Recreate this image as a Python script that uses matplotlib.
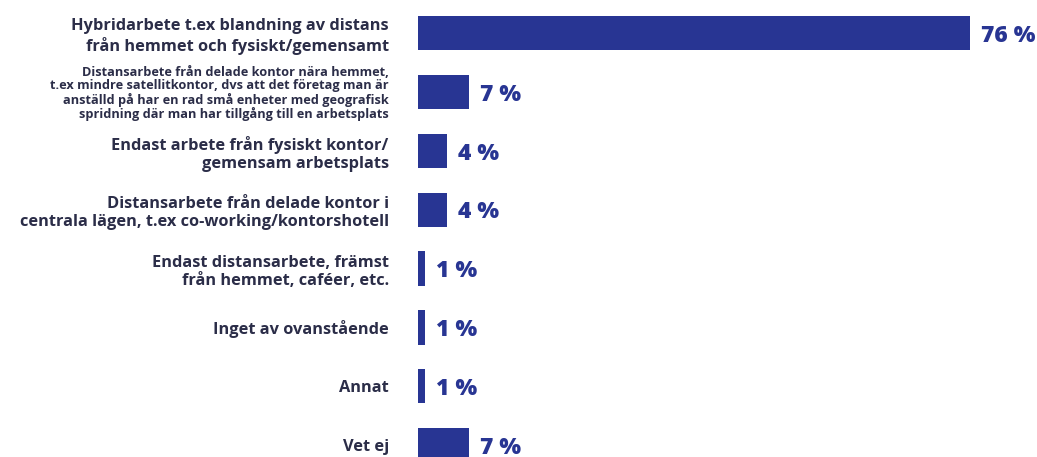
import matplotlib.pyplot as plt

# svarsalternativ och andel svarande (%)
kategorier = [
    'Hybridarbete t.ex blandning av distans\nfrån hemmet och fysiskt/gemensamt',
    'Distansarbete från delade kontor nära hemmet,\nt.ex mindre satellitkontor, dvs att det företag man är\n'
    'anställd på har en rad små enheter med geografisk\nspridning där man har tillgång till en arbetsplats',
    'Endast arbete från fysiskt kontor/\ngemensam arbetsplats',
    'Distansarbete från delade kontor i\ncentrala lägen, t.ex co-working/kontorshotell',
    'Endast distansarbete, främst\nfrån hemmet, caféer, etc.',
    'Inget av ovanstående',
    'Annat',
    'Vet ej',
]
andelar = [76, 7, 4, 4, 1, 1, 1, 7]

bar_farg = '#283593'
text_farg = '#2b2d48'

plt.rcParams['font.family'] = ['Open Sans', 'DejaVu Sans']

fig = plt.figure(figsize=(10.37, 4.57), dpi=100)
ax = fig.add_axes([0.403, 0.0, 0.597, 1.0])

y = list(range(len(kategorier)))
bars = ax.barh(y, andelar, height=0.58, color=bar_farg)

ax.set_xlim(0, 85.3)
ax.set_ylim(7.2, -0.56)

ax.set_yticks(y)
ax.set_yticklabels(kategorier, fontweight='bold', color=text_farg, fontsize=11.8,
                   linespacing=1.22)
for i, lbl in enumerate(ax.get_yticklabels()):
    if i == 1:
        lbl.set_fontsize(9.2)
        lbl.set_linespacing(1.02)
ax.tick_params(axis='y', length=0, pad=21)
ax.set_xticks([])
for s in ax.spines.values():
    s.set_visible(False)

# värdeetiketter till höger om staplarna
for yi, v in zip(y, andelar):
    ax.annotate(f'{v} %', xy=(v, yi), xytext=(8, -2), textcoords='offset points',
                ha='left', va='center', fontsize=16.5, fontweight='heavy', color=bar_farg)

fig.savefig('out.png', dpi=100)
